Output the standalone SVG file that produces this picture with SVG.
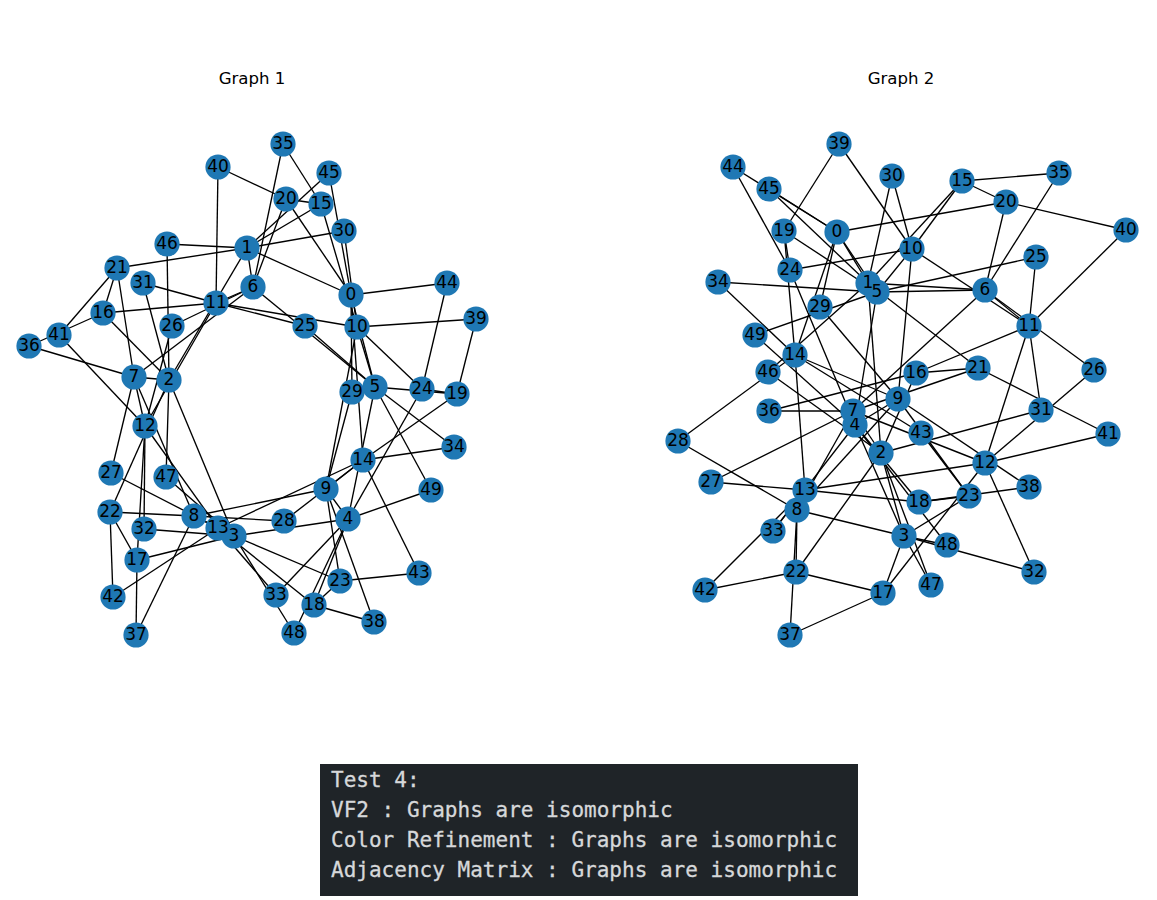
<svg xmlns="http://www.w3.org/2000/svg" width="1157" height="900" viewBox="0 0 1157 900">
<style>
.e path{fill:none;stroke:#000;stroke-width:1.35}
.n circle{fill:#1f78b4;r:12.6px}
.n text{font:17px "DejaVu Sans",sans-serif;text-anchor:middle;fill:#000;transform:translateY(-.8px)}
.t{font:16.6px "DejaVu Sans",sans-serif;text-anchor:middle;fill:#000}
.o{font:21.03px "DejaVu Sans Mono","Liberation Mono",monospace;fill:#d6d8da;stroke:#d6d8da;stroke-width:.3}
</style>
<defs>
<clipPath id="c2n5"><path clip-rule="evenodd" d="M0 0H1157V900H0ZM861 276H874V291H861Z"/></clipPath>
<clipPath id="c2n7"><path clip-rule="evenodd" d="M0 0H1157V900H0ZM848 418H862V432H848Z"/></clipPath>
<clipPath id="c1n13"><path clip-rule="evenodd" d="M0 0H1157V900H0ZM228 529H240V544H228Z"/></clipPath>
</defs>
<rect width="1157" height="900" fill="#fff"/>
<text class="t" x="252" y="84">Graph 1</text>
<text class="t" x="901" y="84">Graph 2</text>
<g id="graph1-edges" class="e">
<path d="M351 295L247 248"/><path d="M247 248L169 380"/><path d="M169 380L234 536"/><path d="M234 536L348 519"/><path d="M348 519L375 387"/><path d="M375 387L253 287"/><path d="M253 287L134 377"/><path d="M134 377L194 516"/><path d="M194 516L326 489"/><path d="M326 489L357 327"/><path d="M357 327L216 303"/><path d="M216 303L145 426"/><path d="M145 426L218 528"/><path d="M218 528L363 460"/><path d="M363 460L351 295"/>
<path d="M321 204L247 248"/><path d="M103 313L169 380"/><path d="M137 560L234 536"/><path d="M314 605L348 519"/><path d="M457 394L375 387"/><path d="M286 199L253 287"/><path d="M117 268L134 377"/><path d="M110 512L194 516"/><path d="M340 581L326 489"/><path d="M422 389L357 327"/><path d="M305 326L216 303"/><path d="M172 326L145 426"/><path d="M111 473L218 528"/><path d="M284 521L363 460"/><path d="M352 392L351 295"/>
<path d="M344 231L247 248"/><path d="M143 283L169 380"/><path d="M144 529L234 536"/><path d="M276 595L348 519"/><path d="M454 447L375 387"/><path d="M283 144L253 287"/><path d="M29 346L134 377"/><path d="M136 635L194 516"/><path d="M374 622L326 489"/><path d="M476 319L357 327"/><path d="M218 167L216 303"/><path d="M59 335L145 426"/><path d="M113 597L218 528"/><path d="M419 573L363 460"/><path d="M447 283L351 295"/>
<path d="M329 173L247 248"/><path d="M167 244L169 380"/><path d="M166 477L234 536"/><path d="M294 633L348 519"/><path d="M431 490L375 387"/>
<path d="M351 295L375 387"/><path d="M247 248L253 287"/><path d="M169 380L134 377"/><path d="M234 536L194 516"/><path d="M348 519L326 489"/><path d="M375 387L357 327"/><path d="M253 287L216 303"/><path d="M134 377L145 426"/><path d="M194 516L218 528"/><path d="M326 489L363 460"/><path d="M357 327L321 204"/><path d="M216 303L103 313"/><path d="M145 426L137 560"/><path d="M218 528L314 605"/><path d="M363 460L457 394"/><path d="M321 204L286 199"/><path d="M103 313L117 268"/><path d="M137 560L110 512"/><path d="M314 605L340 581"/><path d="M457 394L422 389"/><path d="M286 199L351 295"/><path d="M117 268L247 248"/><path d="M110 512L169 380"/><path d="M340 581L234 536"/><path d="M422 389L348 519"/>
<path d="M305 326L375 387"/><path d="M172 326L253 287"/><path d="M111 473L134 377"/><path d="M284 521L194 516"/><path d="M352 392L326 489"/><path d="M344 231L357 327"/><path d="M143 283L216 303"/><path d="M144 529L145 426"/><path d="M276 595L218 528"/><path d="M454 447L363 460"/><path d="M283 144L321 204"/><path d="M29 346L103 313"/><path d="M136 635L137 560"/><path d="M374 622L314 605"/><path d="M476 319L457 394"/><path d="M218 167L286 199"/><path d="M59 335L117 268"/><path d="M113 597L110 512"/><path d="M419 573L340 581"/><path d="M447 283L422 389"/>
<path d="M329 173L351 295"/><path d="M167 244L247 248"/><path d="M166 477L169 380"/><path d="M294 633L234 536"/><path d="M431 490L348 519"/>
</g>
<g id="graph1-nodes" class="n">
<g id="g1-n0"><circle cx="351" cy="295"/><text x="351" y="301">0</text></g>
<g id="g1-n1"><circle cx="247" cy="248"/><text x="247" y="254">1</text></g>
<g id="g1-n2"><circle cx="169" cy="380"/><text x="169" y="386">2</text></g>
<g id="g1-n3"><circle cx="234" cy="536"/><text x="234" y="542">3</text></g>
<g id="g1-n4"><circle cx="348" cy="519"/><text x="348" y="525">4</text></g>
<g id="g1-n5"><circle cx="375" cy="387"/><text x="375" y="393">5</text></g>
<g id="g1-n6"><circle cx="253" cy="287"/><text x="253" y="293">6</text></g>
<g id="g1-n7"><circle cx="134" cy="377"/><text x="134" y="383">7</text></g>
<g id="g1-n8"><circle cx="194" cy="516"/><text x="194" y="522">8</text></g>
<g id="g1-n9"><circle cx="326" cy="489"/><text x="326" y="495">9</text></g>
<g id="g1-n10"><circle cx="357" cy="327"/><text x="357" y="333">10</text></g>
<g id="g1-n11"><circle cx="216" cy="303"/><text x="216" y="309">11</text></g>
<g id="g1-n12"><circle cx="145" cy="426"/><text x="145" y="432">12</text></g>
<g id="g1-n13"><circle cx="218" cy="528" clip-path="url(#c1n13)"/><text x="218" y="534">13</text></g>
<g id="g1-n14"><circle cx="363" cy="460"/><text x="363" y="466">14</text></g>
<g id="g1-n15"><circle cx="321" cy="204"/><text x="321" y="210">15</text></g>
<g id="g1-n16"><circle cx="103" cy="313"/><text x="103" y="319">16</text></g>
<g id="g1-n17"><circle cx="137" cy="560"/><text x="137" y="566">17</text></g>
<g id="g1-n18"><circle cx="314" cy="605"/><text x="314" y="611">18</text></g>
<g id="g1-n19"><circle cx="457" cy="394"/><text x="457" y="400">19</text></g>
<g id="g1-n20"><circle cx="286" cy="199"/><text x="286" y="205">20</text></g>
<g id="g1-n21"><circle cx="117" cy="268"/><text x="117" y="274">21</text></g>
<g id="g1-n22"><circle cx="110" cy="512"/><text x="110" y="518">22</text></g>
<g id="g1-n23"><circle cx="340" cy="581"/><text x="340" y="587">23</text></g>
<g id="g1-n24"><circle cx="422" cy="389"/><text x="422" y="395">24</text></g>
<g id="g1-n25"><circle cx="305" cy="326"/><text x="305" y="332">25</text></g>
<g id="g1-n26"><circle cx="172" cy="326"/><text x="172" y="332">26</text></g>
<g id="g1-n27"><circle cx="111" cy="473"/><text x="111" y="479">27</text></g>
<g id="g1-n28"><circle cx="284" cy="521"/><text x="284" y="527">28</text></g>
<g id="g1-n29"><circle cx="352" cy="392"/><text x="352" y="398">29</text></g>
<g id="g1-n30"><circle cx="344" cy="231"/><text x="344" y="237">30</text></g>
<g id="g1-n31"><circle cx="143" cy="283"/><text x="143" y="289">31</text></g>
<g id="g1-n32"><circle cx="144" cy="529"/><text x="144" y="535">32</text></g>
<g id="g1-n33"><circle cx="276" cy="595"/><text x="276" y="601">33</text></g>
<g id="g1-n34"><circle cx="454" cy="447"/><text x="454" y="453">34</text></g>
<g id="g1-n35"><circle cx="283" cy="144"/><text x="283" y="150">35</text></g>
<g id="g1-n36"><circle cx="29" cy="346"/><text x="29" y="352">36</text></g>
<g id="g1-n37"><circle cx="136" cy="635"/><text x="136" y="641">37</text></g>
<g id="g1-n38"><circle cx="374" cy="622"/><text x="374" y="628">38</text></g>
<g id="g1-n39"><circle cx="476" cy="319"/><text x="476" y="325">39</text></g>
<g id="g1-n40"><circle cx="218" cy="167"/><text x="218" y="173">40</text></g>
<g id="g1-n41"><circle cx="59" cy="335"/><text x="59" y="341">41</text></g>
<g id="g1-n42"><circle cx="113" cy="597"/><text x="113" y="603">42</text></g>
<g id="g1-n43"><circle cx="419" cy="573"/><text x="419" y="579">43</text></g>
<g id="g1-n44"><circle cx="447" cy="283"/><text x="447" y="289">44</text></g>
<g id="g1-n45"><circle cx="329" cy="173"/><text x="329" y="179">45</text></g>
<g id="g1-n46"><circle cx="167" cy="244"/><text x="167" y="250">46</text></g>
<g id="g1-n47"><circle cx="166" cy="477"/><text x="166" y="483">47</text></g>
<g id="g1-n48"><circle cx="294" cy="633"/><text x="294" y="639">48</text></g>
<g id="g1-n49"><circle cx="431" cy="490"/><text x="431" y="496">49</text></g>
</g>
<g id="graph2-edges" class="e">
<path d="M837 232L868 283"/><path d="M868 283L881 453"/><path d="M881 453L904 536"/><path d="M904 536L855 425"/><path d="M855 425L877 292"/><path d="M877 292L985 290"/><path d="M985 290L853 411"/><path d="M853 411L797 510"/><path d="M797 510L898 399"/><path d="M898 399L912 249"/><path d="M912 249L1029 326"/><path d="M1029 326L985 463"/><path d="M985 463L805 490"/><path d="M805 490L795 355"/><path d="M795 355L837 232"/>
<path d="M962 181L868 283"/><path d="M916 373L881 453"/><path d="M883 593L904 536"/><path d="M919 502L855 425"/><path d="M784 231L877 292"/><path d="M1006 202L985 290"/><path d="M978 368L853 411"/><path d="M796 572L797 510"/><path d="M969 496L898 399"/><path d="M790 270L912 249"/><path d="M1036 257L1029 326"/><path d="M1094 370L985 463"/><path d="M711 482L805 490"/><path d="M678 441L795 355"/><path d="M820 307L837 232"/>
<path d="M892 176L868 283"/><path d="M1041 410L881 453"/><path d="M1034 572L904 536"/><path d="M773 531L855 425"/><path d="M718 282L877 292"/><path d="M1059 173L985 290"/><path d="M769 411L853 411"/><path d="M790 635L797 510"/><path d="M1029 487L898 399"/><path d="M839 144L912 249"/><path d="M1126 230L1029 326"/><path d="M1108 434L985 463"/><path d="M705 590L805 490"/><path d="M921 433L795 355"/><path d="M733 167L837 232"/>
<path d="M769 189L868 283"/><path d="M768 372L881 453"/><path d="M931 585L904 536"/><path d="M947 545L855 425"/><path d="M755 335L877 292"/>
<path d="M837 232L877 292"/><path d="M868 283L985 290"/><path d="M881 453L853 411"/><path d="M904 536L797 510"/><path d="M855 425L898 399"/><path d="M877 292L912 249"/><path d="M985 290L1029 326"/><path d="M853 411L985 463"/><path d="M797 510L805 490"/><path d="M898 399L795 355"/><path d="M912 249L962 181"/><path d="M1029 326L916 373"/><path d="M985 463L883 593"/><path d="M805 490L919 502"/><path d="M795 355L784 231"/><path d="M962 181L1006 202"/><path d="M916 373L978 368"/><path d="M883 593L796 572"/><path d="M919 502L969 496"/><path d="M784 231L790 270"/><path d="M1006 202L837 232"/><path d="M978 368L868 283"/><path d="M796 572L881 453"/><path d="M969 496L904 536"/><path d="M790 270L855 425"/>
<path d="M1036 257L877 292"/><path d="M1094 370L985 290"/><path d="M711 482L853 411"/><path d="M678 441L797 510"/><path d="M820 307L898 399"/><path d="M892 176L912 249"/><path d="M1041 410L1029 326"/><path d="M1034 572L985 463"/><path d="M773 531L805 490"/><path d="M718 282L795 355"/><path d="M1059 173L962 181"/><path d="M769 411L916 373"/><path d="M790 635L883 593"/><path d="M1029 487L919 502"/><path d="M839 144L784 231"/><path d="M1126 230L1006 202"/><path d="M1108 434L978 368"/><path d="M705 590L796 572"/><path d="M921 433L969 496"/><path d="M733 167L790 270"/>
<path d="M769 189L837 232"/><path d="M768 372L868 283"/><path d="M931 585L881 453"/><path d="M947 545L904 536"/><path d="M755 335L855 425"/>
</g>
<g id="graph2-nodes" class="n">
<g id="g2-n0"><circle cx="837" cy="232"/><text x="837" y="238">0</text></g>
<g id="g2-n1"><circle cx="868" cy="283"/><text x="868" y="289">1</text></g>
<g id="g2-n2"><circle cx="881" cy="453"/><text x="881" y="459">2</text></g>
<g id="g2-n3"><circle cx="904" cy="536"/><text x="904" y="542">3</text></g>
<g id="g2-n4"><circle cx="855" cy="425"/><text x="855" y="431">4</text></g>
<g id="g2-n5"><circle cx="877" cy="292" clip-path="url(#c2n5)"/><text x="877" y="298">5</text></g>
<g id="g2-n6"><circle cx="985" cy="290"/><text x="985" y="296">6</text></g>
<g id="g2-n7"><circle cx="853" cy="411" clip-path="url(#c2n7)"/><text x="853" y="417">7</text></g>
<g id="g2-n8"><circle cx="797" cy="510"/><text x="797" y="516">8</text></g>
<g id="g2-n9"><circle cx="898" cy="399"/><text x="898" y="405">9</text></g>
<g id="g2-n10"><circle cx="912" cy="249"/><text x="912" y="255">10</text></g>
<g id="g2-n11"><circle cx="1029" cy="326"/><text x="1029" y="332">11</text></g>
<g id="g2-n12"><circle cx="985" cy="463"/><text x="985" y="469">12</text></g>
<g id="g2-n13"><circle cx="805" cy="490"/><text x="805" y="496">13</text></g>
<g id="g2-n14"><circle cx="795" cy="355"/><text x="795" y="361">14</text></g>
<g id="g2-n15"><circle cx="962" cy="181"/><text x="962" y="187">15</text></g>
<g id="g2-n16"><circle cx="916" cy="373"/><text x="916" y="379">16</text></g>
<g id="g2-n17"><circle cx="883" cy="593"/><text x="883" y="599">17</text></g>
<g id="g2-n18"><circle cx="919" cy="502"/><text x="919" y="508">18</text></g>
<g id="g2-n19"><circle cx="784" cy="231"/><text x="784" y="237">19</text></g>
<g id="g2-n20"><circle cx="1006" cy="202"/><text x="1006" y="208">20</text></g>
<g id="g2-n21"><circle cx="978" cy="368"/><text x="978" y="374">21</text></g>
<g id="g2-n22"><circle cx="796" cy="572"/><text x="796" y="578">22</text></g>
<g id="g2-n23"><circle cx="969" cy="496"/><text x="969" y="502">23</text></g>
<g id="g2-n24"><circle cx="790" cy="270"/><text x="790" y="276">24</text></g>
<g id="g2-n25"><circle cx="1036" cy="257"/><text x="1036" y="263">25</text></g>
<g id="g2-n26"><circle cx="1094" cy="370"/><text x="1094" y="376">26</text></g>
<g id="g2-n27"><circle cx="711" cy="482"/><text x="711" y="488">27</text></g>
<g id="g2-n28"><circle cx="678" cy="441"/><text x="678" y="447">28</text></g>
<g id="g2-n29"><circle cx="820" cy="307"/><text x="820" y="313">29</text></g>
<g id="g2-n30"><circle cx="892" cy="176"/><text x="892" y="182">30</text></g>
<g id="g2-n31"><circle cx="1041" cy="410"/><text x="1041" y="416">31</text></g>
<g id="g2-n32"><circle cx="1034" cy="572"/><text x="1034" y="578">32</text></g>
<g id="g2-n33"><circle cx="773" cy="531"/><text x="773" y="537">33</text></g>
<g id="g2-n34"><circle cx="718" cy="282"/><text x="718" y="288">34</text></g>
<g id="g2-n35"><circle cx="1059" cy="173"/><text x="1059" y="179">35</text></g>
<g id="g2-n36"><circle cx="769" cy="411"/><text x="769" y="417">36</text></g>
<g id="g2-n37"><circle cx="790" cy="635"/><text x="790" y="641">37</text></g>
<g id="g2-n38"><circle cx="1029" cy="487"/><text x="1029" y="493">38</text></g>
<g id="g2-n39"><circle cx="839" cy="144"/><text x="839" y="150">39</text></g>
<g id="g2-n40"><circle cx="1126" cy="230"/><text x="1126" y="236">40</text></g>
<g id="g2-n41"><circle cx="1108" cy="434"/><text x="1108" y="440">41</text></g>
<g id="g2-n42"><circle cx="705" cy="590"/><text x="705" y="596">42</text></g>
<g id="g2-n43"><circle cx="921" cy="433"/><text x="921" y="439">43</text></g>
<g id="g2-n44"><circle cx="733" cy="167"/><text x="733" y="173">44</text></g>
<g id="g2-n45"><circle cx="769" cy="189"/><text x="769" y="195">45</text></g>
<g id="g2-n46"><circle cx="768" cy="372"/><text x="768" y="378">46</text></g>
<g id="g2-n47"><circle cx="931" cy="585"/><text x="931" y="591">47</text></g>
<g id="g2-n48"><circle cx="947" cy="545"/><text x="947" y="551">48</text></g>
<g id="g2-n49"><circle cx="755" cy="335"/><text x="755" y="341">49</text></g>
</g>
<g id="output">
<rect x="320" y="764" width="538" height="132" fill="#1f2428"/>
<text class="o" x="331" y="787">Test 4:</text>
<text class="o" x="331" y="817">VF2 : Graphs are isomorphic</text>
<text class="o" x="331" y="847">Color Refinement : Graphs are isomorphic</text>
<text class="o" x="331" y="877">Adjacency Matrix : Graphs are isomorphic</text>
</g>
</svg>
